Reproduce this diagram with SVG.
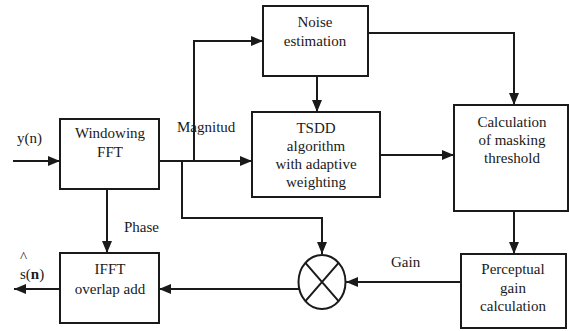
<svg xmlns="http://www.w3.org/2000/svg" width="569" height="331" viewBox="0 0 569 331">
  <style>
    .box { fill: #ffffff; stroke: #1a1a1a; stroke-width: 2; }
    .wire { fill: none; stroke: #1a1a1a; stroke-width: 2; }
    text { font-family: 'Liberation Serif', 'DejaVu Serif', 'Times New Roman', serif; font-size: 15px; fill: #1a1a1a; }
    .lbl { text-anchor: middle; }
  </style>
  <defs>
    <marker id="arrow" viewBox="0 0 12 10" refX="12" refY="5" markerWidth="12" markerHeight="10" markerUnits="userSpaceOnUse" orient="auto">
      <path d="M0,0 L12,5 L0,10 Z" fill="#1a1a1a"/>
    </marker>
  </defs>
  <rect width="569" height="331" fill="#ffffff"/>

  <!-- connectors -->
  <g id="connectors">
    <!-- input y(n) -->
    <path class="wire" d="M13,161 L60,161" marker-end="url(#arrow)"/>
    <!-- magnitude to TSDD -->
    <path class="wire" d="M159,161 L252,161" marker-end="url(#arrow)"/>
    <!-- magnitude up to noise estimation -->
    <path class="wire" d="M194,161 L194,41 L263,41" marker-end="url(#arrow)"/>
    <!-- magnitude down to multiplier -->
    <path class="wire" d="M182,161 L182,218 L322,218 L322,254" marker-end="url(#arrow)"/>
    <!-- noise to TSDD -->
    <path class="wire" d="M317,76 L317,112" marker-end="url(#arrow)"/>
    <!-- noise to masking threshold -->
    <path class="wire" d="M368,33 L514,33 L514,105" marker-end="url(#arrow)"/>
    <!-- TSDD to masking threshold -->
    <path class="wire" d="M380,155 L454,155" marker-end="url(#arrow)"/>
    <!-- masking threshold to perceptual gain -->
    <path class="wire" d="M514,211 L514,254" marker-end="url(#arrow)"/>
    <!-- gain to multiplier -->
    <path class="wire" d="M461,282 L346,282" marker-end="url(#arrow)"/>
    <!-- multiplier to IFFT -->
    <path class="wire" d="M299,289 L159,289" marker-end="url(#arrow)"/>
    <!-- phase -->
    <path class="wire" d="M107,189 L107,253" marker-end="url(#arrow)"/>
    <!-- output -->
    <path class="wire" d="M60,289 L14,289" marker-end="url(#arrow)"/>
  </g>

  <g id="windowing-fft">
    <rect class="box" x="60" y="119" width="99" height="70"/>
    <text class="lbl" x="110" y="138">Windowing</text>
    <text class="lbl" x="110" y="157">FFT</text>
  </g>

  <g id="noise-estimation">
    <rect class="box" x="263" y="6" width="105" height="70"/>
    <text class="lbl" x="315" y="27">Noise</text>
    <text class="lbl" x="315" y="46">estimation</text>
  </g>

  <g id="tsdd">
    <rect class="box" x="252" y="112" width="128" height="85"/>
    <text class="lbl" x="316" y="133">TSDD</text>
    <text class="lbl" x="316" y="151">algorithm</text>
    <text class="lbl" x="316" y="169">with adaptive</text>
    <text class="lbl" x="316" y="187">weighting</text>
  </g>

  <g id="masking-threshold">
    <rect class="box" x="454" y="105" width="114" height="106"/>
    <text class="lbl" x="512" y="127">Calculation</text>
    <text class="lbl" x="512" y="145">of masking</text>
    <text class="lbl" x="512" y="163">threshold</text>
  </g>

  <g id="perceptual-gain">
    <rect class="box" x="461" y="254" width="105" height="74"/>
    <text class="lbl" x="513" y="274">Perceptual</text>
    <text class="lbl" x="513" y="293">gain</text>
    <text class="lbl" x="513" y="311">calculation</text>
  </g>

  <g id="multiplier">
    <ellipse class="box" cx="322" cy="282" rx="23.5" ry="27"/>
    <path class="wire" d="M305.4,262.9 L338.6,301.1 M338.6,262.9 L305.4,301.1"/>
  </g>

  <g id="ifft">
    <rect class="box" x="60" y="253" width="99" height="70"/>
    <text class="lbl" x="110" y="274">IFFT</text>
    <text class="lbl" x="110" y="294">overlap add</text>
  </g>

  <g id="labels">
    <text x="17" y="143">y(n)</text>
    <text x="177" y="132">Magnitud</text>
    <text x="124" y="232">Phase</text>
    <text x="391" y="267">Gain</text>
    <text x="20" y="262" font-size="12">^</text>
    <text x="20" y="279">s(<tspan font-weight="bold">n</tspan>)</text>
  </g>
</svg>
